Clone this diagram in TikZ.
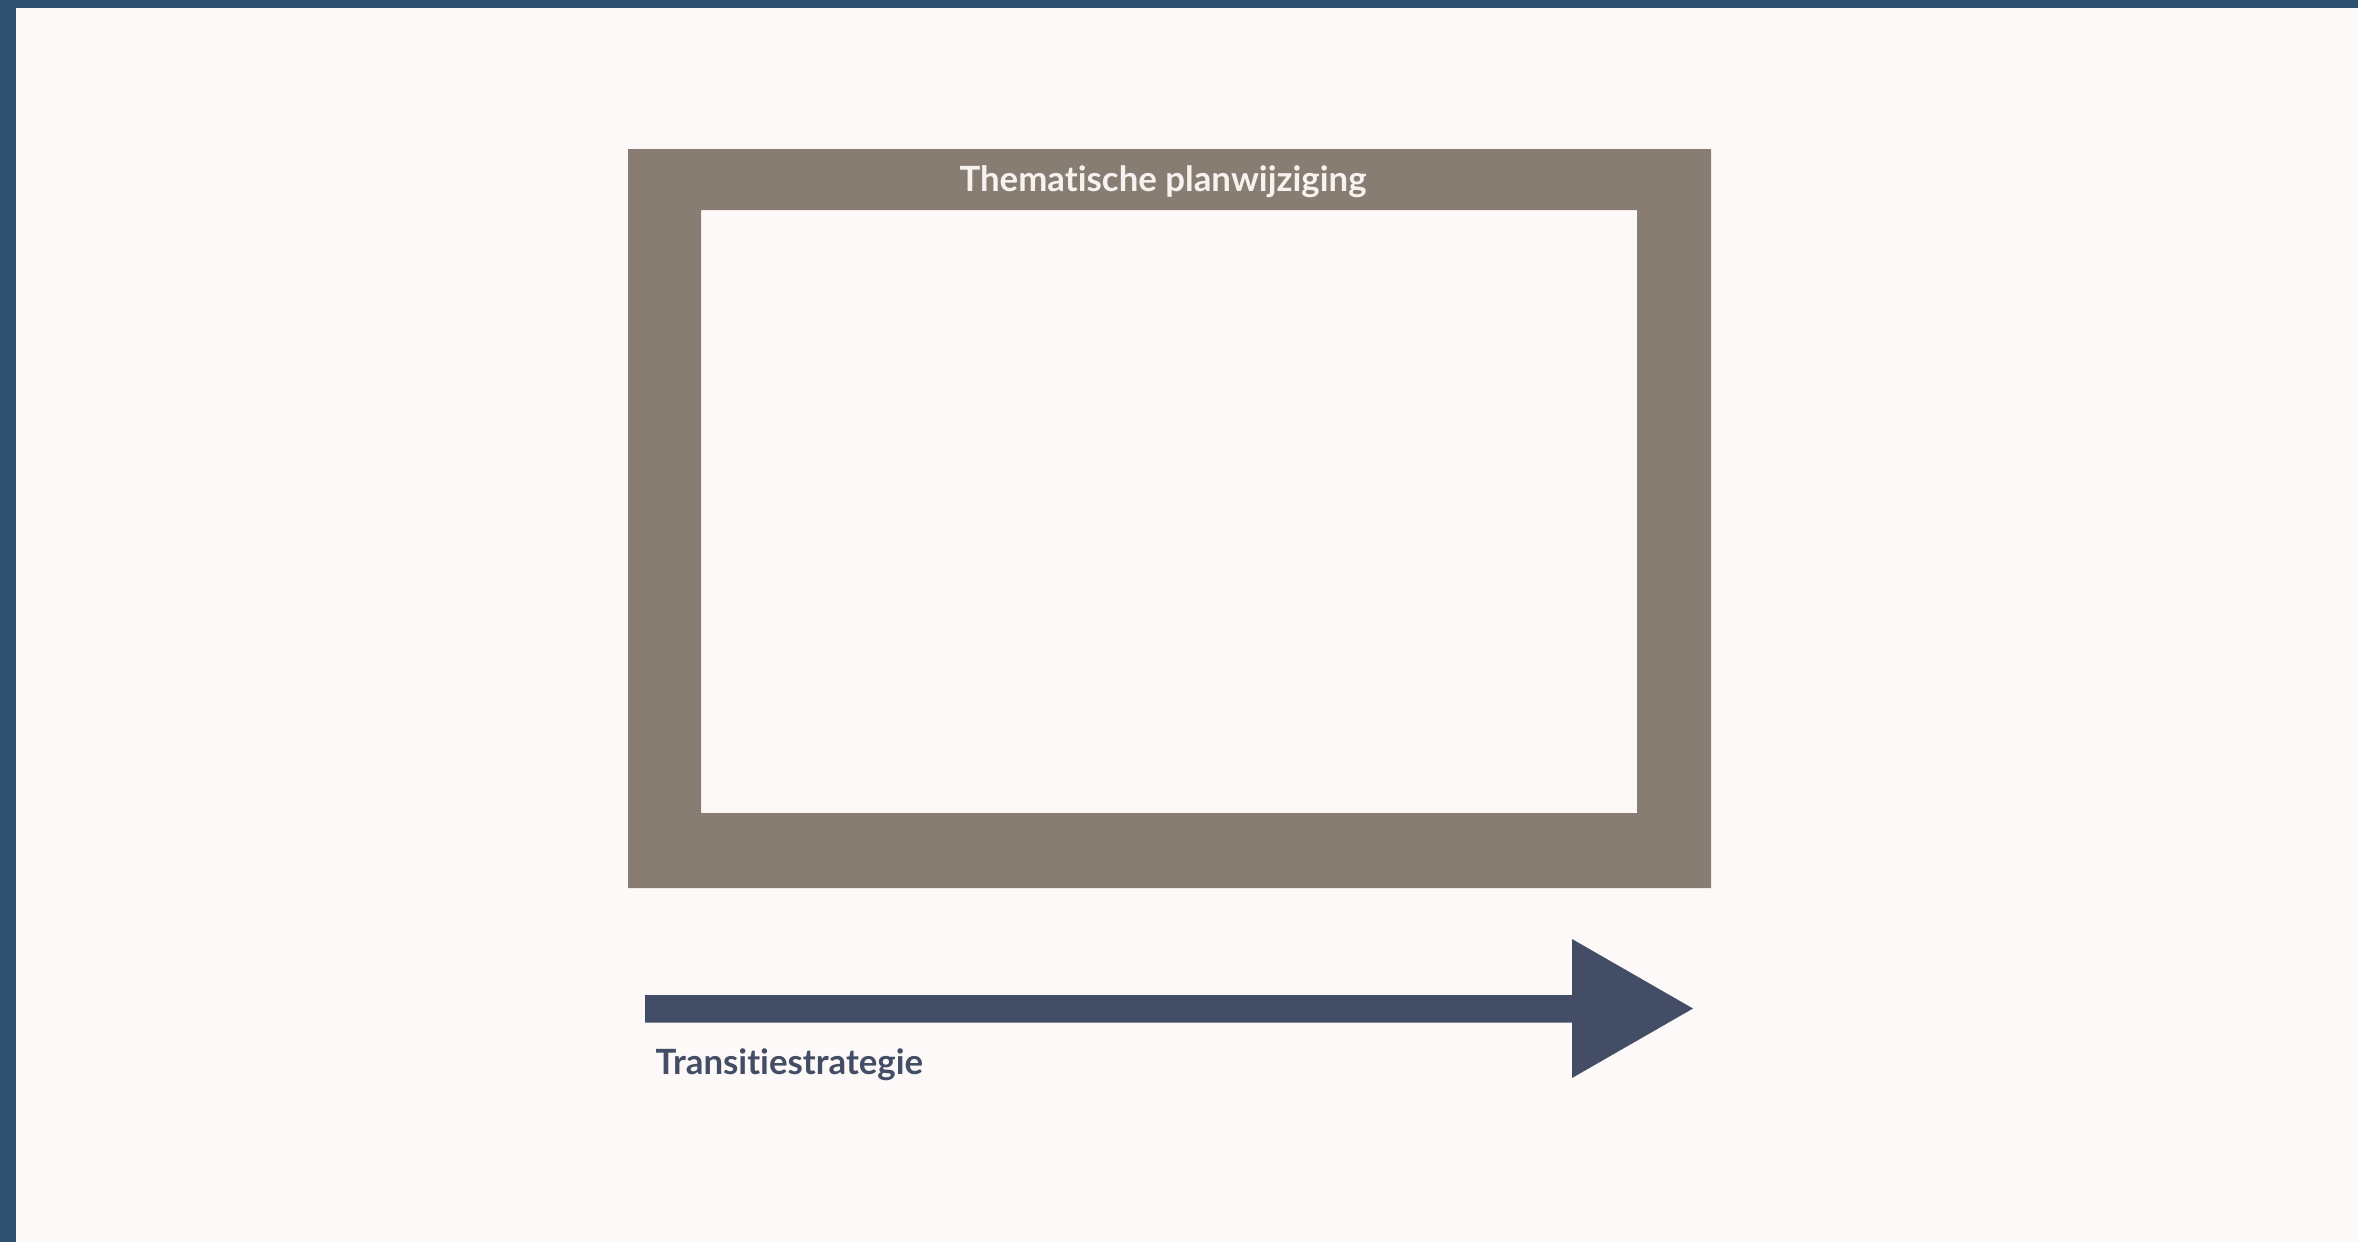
\documentclass[tikz,border=0pt]{standalone}
\usepackage{fontspec}
\setmainfont[Ligatures=NoCommon]{Lato}
\definecolor{bgc}{HTML}{FDF9F8}
\definecolor{barc}{HTML}{30506F}
\definecolor{framec}{HTML}{877D72}
\definecolor{arrowc}{HTML}{434E66}
\definecolor{titlec}{HTML}{F7F2F0}
\tikzset{
  lbl/.style={inner sep=0pt, font=\bfseries},
}
\begin{document}
\begin{tikzpicture}[x=0.1mm,y=-0.1mm]
\useasboundingbox (0,0) rectangle (2358,1242);
\fill[bgc] (0,0) rectangle (2358,1242);
% border bars
\fill[barc] (0,0) rectangle (2358,8);
\fill[barc] (0,0) rectangle (16,1242);
% frame
\fill[framec,even odd rule] (628,149) rectangle (1711,888) (701,210) rectangle (1637,813);
\node[lbl, text=titlec, font=\bfseries\fontsize{9.9pt}{12pt}\selectfont, anchor=base] (title) at (1163,191.5) {Thematische planwijziging};
% arrow
\fill[arrowc] (645,995) -- (1572,995) -- (1572,939) -- (1693,1008.5) -- (1572,1078) -- (1572,1022.5) -- (645,1022.5) -- cycle;
\node[lbl, text=arrowc, font=\bfseries\fontsize{9.9pt}{11pt}\selectfont, anchor=base west] (strat) at (655,1074) {Transitiestrategie};
\end{tikzpicture}
\end{document}
